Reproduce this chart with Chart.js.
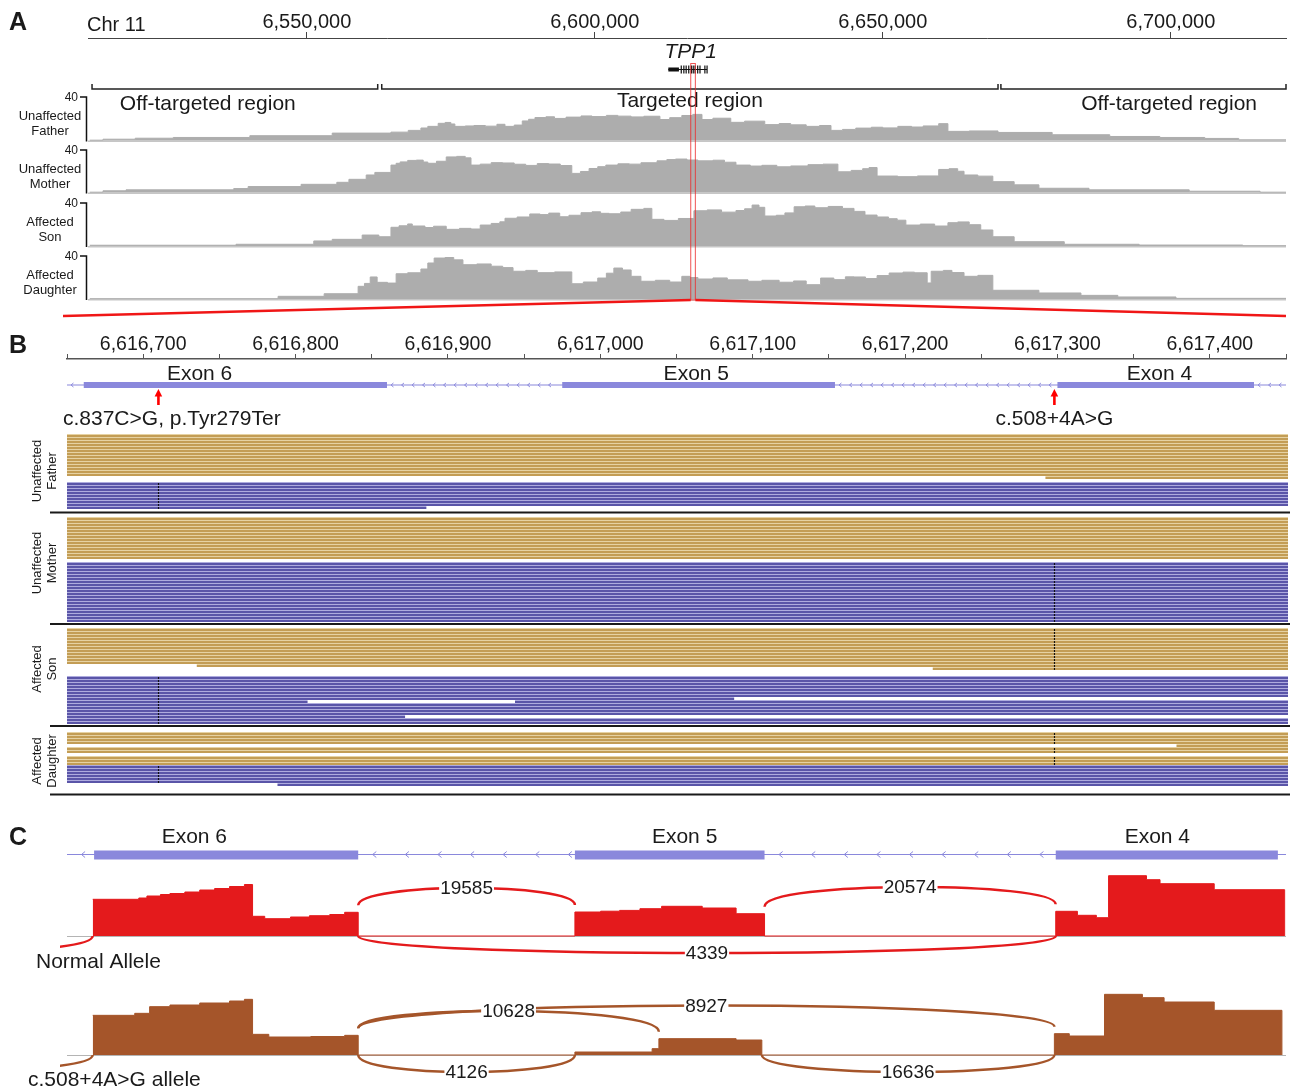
<!DOCTYPE html>
<html>
<head>
<meta charset="utf-8">
<title>TPP1 coverage, reads and splice junctions</title>
<script src="https://cdn.jsdelivr.net/npm/chart.js@4.4.1/dist/chart.umd.min.js"></script>
<style>
  html, body { margin: 0; padding: 0; background: #fff; }
  #page { position: relative; width: 1292px; height: 1088px; overflow: hidden; background: #fff; }
  #page canvas { position: absolute; left: 0; }
</style>
</head>
<body>
<div id="page"></div>
<script>
// ---------- panel A: chr11 window, positions in kb ----------
const chrRange = [6512, 6720];
const chrTicks = [6550, 6600, 6650, 6700];
const regionSpans = [[6512.7, 6562.3], [6563.0, 6670.0], [6670.5, 6720.0]];
const regionNames = ['Off-targeted region', 'Targeted region', 'Off-targeted region'];
const regionLabelAt = [6532.8, 6616.5, 6699.7];
const tpp1Utr = [6612.76, 6614.6];
const tpp1Exons = [[6614.9, 6615.0], [6615.35, 6615.45], [6615.75, 6615.85], [6616.2, 6616.3],
  [6616.661, 6616.86], [6616.975, 6617.154], [6617.3, 6617.429], [6617.75, 6617.85],
  [6618.15, 6618.25], [6619.0, 6619.1], [6619.38, 6619.48]];
const trackNames = [['Unaffected', 'Father'], ['Unaffected', 'Mother'], ['Affected', 'Son'], ['Affected', 'Daughter']];

// read depth, [kb, depth] - each depth holds from its position to the next one
const fatherCov = [[6512.3, 0.3], [6514.6, 1.2], [6520.2, 2.1], [6526.8, 2.8], [6540.1, 4.4], [6554.4, 6.8],
  [6564.6, 7.7], [6567.6, 9.3], [6569.8, 11.5], [6571.0, 13.0], [6572.8, 15.8], [6574.0, 16.6], [6575.0, 15.2],
  [6575.7, 13.0], [6577.5, 13.4], [6579.0, 13.8], [6581.0, 13.2], [6583.0, 14.9], [6584.4, 13.0], [6586.0, 14.2],
  [6587.4, 18.0], [6588.5, 19.5], [6589.6, 21.1], [6591.5, 21.8], [6593.0, 20.3], [6595.0, 21.5], [6597.6, 22.6],
  [6599.5, 22.0], [6602.0, 23.1], [6604.0, 22.4], [6606.3, 21.7], [6608.5, 22.3], [6611.3, 19.3], [6613.0, 21.0],
  [6615.1, 23.0], [6617.0, 24.0], [6618.6, 19.3], [6620.5, 20.5], [6623.6, 16.7], [6626.0, 17.8], [6629.5, 14.6],
  [6632.0, 15.6], [6634.0, 14.4], [6636.7, 13.0], [6639.0, 13.8], [6641.0, 9.3], [6643.0, 10.2], [6645.3, 11.4],
  [6648.0, 12.2], [6650.0, 11.6], [6652.6, 13.0], [6655.0, 12.4], [6657.0, 13.4], [6659.7, 15.5], [6661.3, 8.4],
  [6665.0, 8.8], [6670.0, 7.4], [6679.4, 5.3], [6689.4, 3.7], [6698.1, 2.8], [6705.9, 1.9], [6711.8, 0.6],
  [6720, 0.6]];
const motherCov = [[6512.3, 0.3], [6514.6, 1.6], [6518.6, 2.5], [6537.3, 3.7], [6539.8, 5.6], [6549.0, 7.7],
  [6555.2, 9.6], [6557.3, 12.4], [6560.3, 16.5], [6561.8, 18.9], [6564.6, 25.8], [6565.5, 27.5], [6566.2, 28.8],
  [6567.5, 30.2], [6569.0, 30.5], [6570.2, 28.7], [6571.0, 27.5], [6572.5, 29.4], [6574.2, 33.5], [6576.0, 34.0],
  [6577.5, 32.6], [6578.5, 25.8], [6580.1, 26.7], [6582.0, 28.1], [6584.0, 27.8], [6586.0, 26.6], [6588.0, 25.5],
  [6590.0, 27.2], [6592.0, 26.8], [6594.0, 25.4], [6596.0, 18.0], [6597.5, 19.8], [6599.0, 22.6], [6600.5, 24.3],
  [6601.9, 25.8], [6604.0, 27.0], [6606.0, 26.7], [6608.0, 28.0], [6610.8, 29.8], [6612.5, 31.0], [6614.0, 31.5],
  [6616.0, 30.6], [6617.9, 29.8], [6620.5, 30.4], [6622.5, 28.5], [6624.5, 25.8], [6627.0, 24.9], [6629.0, 25.6],
  [6631.6, 24.2], [6634.0, 25.0], [6637.0, 26.2], [6639.6, 26.7], [6642.2, 19.5], [6644.5, 20.8], [6646.5, 22.4],
  [6647.6, 23.5], [6649.0, 15.5], [6652.6, 14.9], [6656.0, 15.6], [6659.7, 21.7], [6661.5, 22.4], [6663.0, 20.0],
  [6664.1, 16.5], [6666.5, 15.4], [6669.1, 10.2], [6672.8, 7.2], [6677.1, 4.0], [6685.8, 2.5], [6703.2, 1.2],
  [6715.5, 0.3], [6720, 0.3]];
const sonCov = [[6512.3, 0.7], [6537.7, 1.6], [6551.2, 4.7], [6554.4, 6.2], [6559.6, 10.2], [6562.5, 8.6],
  [6564.6, 17.4], [6566.0, 18.8], [6567.5, 20.5], [6568.3, 18.6], [6570.5, 17.2], [6572.0, 18.4], [6574.2, 15.5],
  [6576.5, 16.4], [6578.5, 15.8], [6580.1, 19.5], [6582.0, 21.0], [6583.5, 22.5], [6584.4, 25.8], [6586.5, 27.0],
  [6588.7, 29.8], [6590.5, 29.2], [6592.0, 30.6], [6593.9, 27.2], [6595.5, 28.6], [6597.6, 31.0], [6599.5, 31.8],
  [6601.0, 30.4], [6602.5, 30.0], [6604.5, 31.6], [6606.3, 34.1], [6608.5, 35.0], [6609.9, 24.8], [6612.0, 23.8],
  [6614.5, 25.6], [6617.2, 32.8], [6619.5, 33.6], [6622.0, 31.5], [6624.5, 33.0], [6626.0, 34.6], [6627.3, 38.1],
  [6628.5, 36.0], [6629.5, 27.9], [6631.5, 28.6], [6633.0, 30.8], [6634.6, 36.5], [6636.5, 37.2], [6638.2, 35.6],
  [6640.5, 36.8], [6643.0, 35.0], [6645.0, 32.2], [6646.9, 28.8], [6649.0, 27.0], [6651.0, 25.4], [6652.5, 24.0],
  [6654.0, 19.5], [6656.5, 20.4], [6659.0, 18.6], [6661.3, 21.7], [6663.0, 22.4], [6665.0, 19.8], [6667.0, 14.9],
  [6669.1, 8.6], [6672.8, 4.0], [6681.5, 1.6], [6694.5, 0.9], [6712.5, 0.3], [6720, 0.3]];
const daughterCov = [[6512.3, 0.3], [6545.0, 2.5], [6553.0, 4.9], [6558.9, 11.8], [6560.0, 14.5], [6561.0, 20.5],
  [6562.2, 15.5], [6564.0, 14.8], [6565.5, 23.5], [6567.5, 24.4], [6569.8, 27.9], [6571.0, 33.5], [6572.1, 38.1],
  [6574.0, 38.6], [6575.5, 36.4], [6577.1, 31.9], [6579.5, 32.6], [6582.0, 30.5], [6584.0, 29.2], [6585.8, 25.8],
  [6588.0, 26.6], [6590.0, 24.5], [6593.0, 25.2], [6596.0, 14.2], [6598.0, 15.8], [6600.5, 19.5], [6602.0, 24.0],
  [6603.3, 28.8], [6604.8, 27.0], [6606.3, 21.1], [6608.0, 16.5], [6610.5, 17.4], [6613.0, 15.8], [6615.1, 21.1],
  [6616.5, 20.0], [6617.9, 18.6], [6620.5, 19.6], [6623.0, 17.8], [6626.6, 16.5], [6629.0, 17.4], [6632.0, 15.6],
  [6634.5, 16.8], [6636.7, 13.3], [6639.2, 19.5], [6641.5, 18.0], [6643.5, 20.6], [6645.0, 20.5], [6647.0, 19.0],
  [6649.0, 21.8], [6651.1, 24.2], [6653.5, 25.0], [6655.5, 24.4], [6657.7, 14.9], [6658.4, 25.8], [6660.5, 26.6],
  [6662.0, 24.6], [6664.1, 21.1], [6666.5, 22.0], [6669.1, 8.1], [6677.1, 5.6], [6684.4, 3.4], [6690.8, 1.9],
  [6700.9, 0.6], [6720, 0.6]];

// ---------- panel B: exons 4-6 in bp ----------
const bRange = [6616650, 6617450];
const bTicks = [6616650, 6616700, 6616750, 6616800, 6616850, 6616900, 6616950, 6617000, 6617050,
  6617100, 6617150, 6617200, 6617250, 6617300, 6617350, 6617400, 6617450];
const bExons = [[6616661, 6616860], [6616975, 6617154], [6617300, 6617429]];
const exonNames = ['Exon 6', 'Exon 5', 'Exon 4'];
const bExonLabelAt = [6616737, 6617063, 6617367];
const variants = [6616710, 6617298];
const variantNames = ['c.837C>G, p.Tyr279Ter', 'c.508+4A>G'];

// reads: [haplotype, rows, segments, variant carried]
const LO = 6616640, HI = 6617460;
const fatherReads = [
  ['h1', 14, [[LO, HI]], null],
  ['h1', 1, [[6617292, HI]], null],
  ['gap', 1],
  ['h2', 8, [[LO, HI]], 6616710],
  ['h2', 1, [[LO, 6616886]], 6616710]
];
const motherReads = [
  ['h1', 14, [[LO, HI]], null],
  ['gap', 1],
  ['h2', 20, [[LO, HI]], 6617298]
];
const sonReads = [
  ['h1', 12, [[LO, HI]], 6617298],
  ['h1', 1, [[6616735, HI]], 6617298],
  ['h1', 1, [[6617218, HI]], 6617298],
  ['gap', 2],
  ['h2', 7, [[LO, HI]], 6616710],
  ['h2', 1, [[LO, 6617088]], 6616710],
  ['h2', 1, [[LO, 6616808], [6616944, HI]], 6616710],
  ['h2', 4, [[LO, HI]], 6616710],
  ['h2', 1, [[LO, 6616872]], 6616710],
  ['h2', 2, [[LO, HI]], 6616710]
];
const daughterReads = [
  ['h1', 4, [[LO, HI]], 6617298],
  ['h1', 1, [[6617378, HI]], 6617298],
  ['h1', 2, [[LO, HI]], 6617298],
  ['gap', 1],
  ['h1', 3, [[LO, HI]], 6617298],
  ['h2', 6, [[LO, HI]], 6616710],
  ['h2', 1, [[6616788, HI]], 6616710]
];

// ---------- panel C: sashimi ----------
const cRange = [6616600, 6617500];
const cExons = [[6616620, 6616815], [6616975, 6617115], [6617330, 6617494]];
const cExonLabelAt = [6616694, 6617056, 6617405];
const normalCov = [[6616619, 36700], [6616653, 38000], [6616659, 40000], [6616669, 41500], [6616676, 42500],
  [6616687, 44000], [6616698, 46000], [6616709, 47500], [6616720, 49500], [6616731, 51500], [6616737, 19700],
  [6616746, 17300], [6616765, 19000], [6616779, 20300], [6616794, 21500], [6616805, 23700], [6616815, 0],
  [6616975, 24000], [6616994, 24800], [6617008, 25600], [6617023, 27300], [6617039, 29700], [6617069, 28000],
  [6617094, 22300], [6617115, 0], [6617330, 24700], [6617346, 20700], [6617360, 18300], [6617369, 60300],
  [6617397, 56300], [6617407, 52300], [6617447, 46300], [6617499, 0]];
const mutantCov = [[6616619, 47600], [6616650, 50000], [6616661, 58000], [6616676, 60000], [6616698, 62400],
  [6616720, 64800], [6616731, 66800], [6616737, 24800], [6616749, 21600], [6616780, 22200], [6616805, 23600],
  [6616815, 0], [6616975, 3600], [6617032, 7600], [6617037, 19600], [6617094, 18000], [6617113, 0],
  [6617329, 25600], [6617340, 22800], [6617366, 72800], [6617394, 68800], [6617410, 63600], [6617447, 53600],
  [6617497, 0]];
// [from, to, reads, side]
const normalJunctions = [
  [6616815, 6616975, 19585, 'up'],
  [6617115, 6617330, 20574, 'up'],
  [6616815, 6617330, 4339, 'down'],
  [6616380, 6616619, null, 'down']
];
const mutantJunctions = [
  [6616815, 6616975, 4126, 'down'],
  [6616815, 6617037, 10628, 'up'],
  [6616815, 6617329, 8927, 'up'],
  [6617113, 6617329, 16636, 'down'],
  [6616380, 6616619, null, 'down']
];
const alleleNames = ['Normal Allele', 'c.508+4A>G allele'];

// ---------- helpers ----------
const W = 1292;
const FONT = '"Liberation Sans", Arial, Helvetica, sans-serif';
const INK = '#1a1a1a';
const EXON = '#8a88dc';
const page = document.getElementById('page');

function addCanvas(top, height) {
  const c = document.createElement('canvas');
  c.width = W;
  c.height = height;
  c.style.top = top + 'px';
  c.style.width = W + 'px';
  c.style.height = height + 'px';
  page.appendChild(c);
  return c;
}

function txt(ctx, s, x, y, font, align, color) {
  ctx.save();
  ctx.font = font + ' ' + FONT;
  ctx.fillStyle = color || INK;
  ctx.textAlign = align || 'left';
  ctx.textBaseline = 'alphabetic';
  ctx.fillText(s, x, y);
  ctx.restore();
}

function seg(ctx, x1, y1, x2, y2) {
  ctx.beginPath();
  ctx.moveTo(x1, y1);
  ctx.lineTo(x2, y2);
  ctx.stroke();
}

// min/max for a hidden axis so that value 0 sits on `baseline`
function placeAxis(areaTop, areaHeight, baseline, pxPerUnit) {
  const max = (baseline - areaTop) / pxPerUnit;
  return { min: max - areaHeight / pxPerUnit, max };
}

function pts(cov) {
  return cov.map(([x, y]) => ({ x, y }));
}

// gene model backbone with strand chevrons between exons
function drawIntrons(ctx, x, area, cy, exons, step, size) {
  ctx.save();
  ctx.strokeStyle = EXON;
  ctx.lineWidth = 1.2;
  seg(ctx, area.left, cy, area.right, cy);
  const edges = [area.left];
  exons.forEach(([s, e]) => edges.push(x.getPixelForValue(s), x.getPixelForValue(e)));
  edges.push(area.right);
  ctx.lineWidth = 1;
  for (let i = 0; i < edges.length; i += 2) {
    for (let c = edges[i] + step / 2; c < edges[i + 1] - 3; c += step) {
      ctx.beginPath();
      ctx.moveTo(c + size * 0.6, cy - size);
      ctx.lineTo(c - size * 0.6, cy);
      ctx.lineTo(c + size * 0.6, cy + size);
      ctx.stroke();
    }
  }
  ctx.restore();
}

const base = {
  responsive: false,
  maintainAspectRatio: false,
  devicePixelRatio: 1,
  animation: false,
  events: [],
  plugins: { legend: { display: false }, tooltip: { enabled: false } }
};

// ---------- panel A ----------
const trackIds = ['yF', 'yM', 'yS', 'yD'];
const trackCov = [fatherCov, motherCov, sonCov, daughterCov];
const trackBox = [[97, 140.5], [150, 192.5], [203, 246], [256, 299]]; // px of the 40 tick and of 0
const A_TOP = 38, A_BOTTOM = 300;

const aScales = {
  x: {
    type: 'linear', position: 'top', min: chrRange[0], max: chrRange[1],
    afterFit: s => { s.height = A_TOP; },
    afterBuildTicks: s => { s.ticks = chrTicks.map(v => ({ value: v })); },
    grid: { drawOnChartArea: false, tickLength: 6, color: '#444', lineWidth: 1 },
    border: { color: '#444', width: 1 },
    ticks: {
      padding: 0, maxRotation: 0, autoSkip: false, color: INK,
      font: { size: 20, lineHeight: 1 },
      callback: v => (v * 1000).toLocaleString('en-US')
    }
  }
};
trackIds.forEach((id, i) => {
  const [top, zero] = trackBox[i];
  aScales[id] = Object.assign({ type: 'linear', display: false },
    placeAxis(A_TOP, A_BOTTOM - A_TOP, zero, (zero - top) / 40));
});

const panelA = {
  id: 'panelA',
  beforeDatasetsDraw(chart) {
    const { ctx, chartArea: a } = chart;
    ctx.save();
    ctx.strokeStyle = '#c6c6c6';
    ctx.lineWidth = 1.5;
    trackIds.forEach(id => {
      const y = chart.scales[id].getPixelForValue(0) + 0.75;
      seg(ctx, a.left, y, a.right, y);
    });
    ctx.restore();
  },
  afterDatasetsDraw(chart) {
    const { ctx, chartArea: a, scales } = chart;
    const x = scales.x;
    ctx.save();
    txt(ctx, 'A', 9, 30, 'bold 25px');
    txt(ctx, 'Chr 11', 87, 30.5, '20px');

    // TPP1 gene model
    const gy = 69.5;
    const g0 = x.getPixelForValue(tpp1Utr[0]);
    const g1 = x.getPixelForValue(tpp1Exons[tpp1Exons.length - 1][1]);
    ctx.strokeStyle = '#111';
    ctx.fillStyle = '#111';
    ctx.lineWidth = 1;
    seg(ctx, g0, gy, g1, gy);
    ctx.fillRect(g0, gy - 2, x.getPixelForValue(tpp1Utr[1]) - g0, 4);
    tpp1Exons.forEach(([s, e]) => {
      const p = x.getPixelForValue(s);
      ctx.fillRect(p, gy - 4, Math.max(x.getPixelForValue(e) - p, 1.2), 8);
    });
    txt(ctx, 'TPP1', (g0 + g1) / 2 + 3, 58, 'italic 21px', 'center');

    // target brackets
    ctx.strokeStyle = '#222';
    ctx.lineWidth = 1.5;
    regionSpans.forEach(([s, e], i) => {
      const p = x.getPixelForValue(s), q = x.getPixelForValue(e);
      ctx.beginPath();
      ctx.moveTo(p, 84); ctx.lineTo(p, 89); ctx.lineTo(q, 89); ctx.lineTo(q, 84);
      ctx.stroke();
      txt(ctx, regionNames[i], x.getPixelForValue(regionLabelAt[i]), i === 1 ? 107 : 110, '21px', 'center');
    });

    // per-track depth axis and sample name
    trackIds.forEach((id, i) => {
      const s = scales[id];
      const yt = s.getPixelForValue(40), yb = s.getPixelForValue(0);
      ctx.strokeStyle = '#111';
      ctx.lineWidth = 1.5;
      ctx.beginPath();
      ctx.moveTo(a.left - 8, yt); ctx.lineTo(a.left - 1.5, yt); ctx.lineTo(a.left - 1.5, yb + 1);
      ctx.stroke();
      txt(ctx, '40', a.left - 10, yt + 4.3, '12px', 'right');
      txt(ctx, trackNames[i][0], 50, yt + 23, '13px', 'center');
      txt(ctx, trackNames[i][1], 50, yt + 38, '13px', 'center');
    });

    // zoomed window of panel B
    const bl = x.getPixelForValue(bRange[0] / 1000), br = x.getPixelForValue(bRange[1] / 1000);
    ctx.strokeStyle = 'rgba(235, 40, 40, 0.8)';
    ctx.lineWidth = 1;
    ctx.strokeRect(bl, 63.5, br - bl, a.bottom - 63.5);
    ctx.strokeStyle = '#f01616';
    ctx.lineWidth = 2.5;
    seg(ctx, bl, a.bottom, 63, a.bottom + 16);
    seg(ctx, br, a.bottom, 1286, a.bottom + 16);
    ctx.restore();
  }
};

new Chart(addCanvas(0, 320), {
  type: 'line',
  data: {
    datasets: trackCov.map((cov, i) => ({
      data: pts(cov), yAxisID: trackIds[i], stepped: 'before', fill: 'origin',
      backgroundColor: '#adadad', borderColor: '#adadad', borderWidth: 1, pointRadius: 0
    }))
  },
  options: Object.assign({}, base, {
    layout: { padding: { left: 88, right: 6, top: 0, bottom: 320 - A_BOTTOM } },
    scales: aScales
  }),
  plugins: [panelA]
});

// ---------- panel B: axis + gene ----------
const panelBGene = {
  id: 'panelBGene',
  beforeDatasetsDraw(chart) {
    const { ctx, chartArea: a, scales: { x, y } } = chart;
    drawIntrons(ctx, x, a, y.getPixelForValue(0), bExons, 10.5, 2);
  },
  afterDraw(chart) {
    const { ctx, scales: { x } } = chart;
    txt(ctx, 'B', 9, 33, 'bold 25px');
    bExonLabelAt.forEach((p, i) => txt(ctx, exonNames[i], x.getPixelForValue(p), 60, '21px', 'center'));
    ctx.save();
    ctx.font = '21px ' + FONT;
    variants.forEach((v, i) => {
      const px = x.getPixelForValue(v);
      ctx.fillStyle = '#f00';
      ctx.beginPath();
      ctx.moveTo(px, 69); ctx.lineTo(px - 3.8, 76.5); ctx.lineTo(px + 3.8, 76.5);
      ctx.closePath();
      ctx.fill();
      ctx.fillRect(px - 1.3, 76, 2.6, 9);
      const w = ctx.measureText(variantNames[i]).width;
      txt(ctx, variantNames[i], Math.max(px, 63 + w / 2), 105, '21px', 'center');
    });
    ctx.restore();
  }
};

new Chart(addCanvas(320, 112), {
  type: 'bar',
  data: {
    labels: ['TPP1'],
    datasets: [{
      data: bExons.map(e => ({ x: e, y: 'TPP1' })),
      backgroundColor: EXON, barThickness: 6, borderWidth: 0, inflateAmount: 0, clip: 0
    }]
  },
  options: Object.assign({}, base, {
    indexAxis: 'y',
    layout: { padding: { left: 67, right: 6, top: 0, bottom: 21 } },
    scales: {
      x: {
        type: 'linear', position: 'top', min: bRange[0], max: bRange[1],
        afterFit: s => { s.height = 39; },
        afterBuildTicks: s => { s.ticks = bTicks.map(v => ({ value: v })); },
        grid: { drawOnChartArea: false, tickLength: 5, color: '#555', lineWidth: 1 },
        border: { color: '#555', width: 1.5 },
        ticks: {
          padding: 0, maxRotation: 0, autoSkip: false, color: INK,
          font: { size: 19.5, lineHeight: 1 },
          callback: v => (v % 100 === 0 ? v.toLocaleString('en-US') : '')
        }
      },
      y: { display: false }
    }
  }),
  plugins: [panelBGene]
});

// ---------- panel B: reads per sample ----------
const PITCH = 3;
const readColor = { h1: ['#c39d55', '#e6d2a3'], h2: ['#5a55a8', '#aeabde'] };
const readsMax = bRange[0] + (bRange[1] - bRange[0]) * 1221 / 1219;

function readsChart(groups, top, sepY, names, nameY) {
  const rows = [];
  groups.forEach(g => { for (let i = 0; i < g[1]; i++) rows.push(g); });
  const reads = [], marks = [];
  rows.forEach((g, r) => {
    if (g[0] === 'gap') return;
    g[2].forEach(s => reads.push({ x: s, y: String(r), h: g[0] }));
    const v = g[3];
    if (v && g[2].some(s => s[0] <= v && v <= s[1])) marks.push({ x: [v - 0.45, v + 0.55], y: String(r) });
  });
  const cTop = top - 2;
  const cH = Math.ceil(sepY + 3 - cTop);

  const frame = {
    id: 'readFrame',
    afterDraw(chart) {
      const ctx = chart.ctx;
      ctx.save();
      ctx.strokeStyle = '#1a1a1a';
      ctx.lineWidth = 2;
      seg(ctx, 50, sepY - cTop, 1290, sepY - cTop);
      [37, 52].forEach((cx, i) => {
        ctx.save();
        ctx.translate(cx, nameY - cTop);
        ctx.rotate(-Math.PI / 2);
        ctx.font = '13px ' + FONT;
        ctx.fillStyle = INK;
        ctx.textAlign = 'center';
        ctx.textBaseline = 'middle';
        ctx.fillText(names[i], 0, 0);
        ctx.restore();
      });
      ctx.restore();
    }
  };

  new Chart(addCanvas(cTop, cH), {
    type: 'bar',
    data: {
      labels: rows.map((_, r) => String(r)),
      datasets: [
        {
          data: marks, order: 0, backgroundColor: '#111', borderColor: 'rgba(0,0,0,0)',
          borderWidth: { top: 1, right: 0, bottom: 0, left: 0 }, borderSkipped: false,
          categoryPercentage: 1, barPercentage: 1, grouped: false, inflateAmount: 0, clip: 0
        },
        {
          data: reads, order: 1,
          backgroundColor: c => readColor[c.raw.h][0],
          borderColor: c => readColor[c.raw.h][1],
          borderWidth: { top: 1, right: 0, bottom: 0, left: 0 }, borderSkipped: false,
          categoryPercentage: 1, barPercentage: 1, grouped: false, inflateAmount: 0, clip: 0
        }
      ]
    },
    options: Object.assign({}, base, {
      indexAxis: 'y',
      layout: { padding: { left: 67, right: 4, top: 2, bottom: cH - 2 - rows.length * PITCH } },
      scales: {
        x: { type: 'linear', display: false, min: bRange[0], max: readsMax },
        y: { display: false }
      }
    }),
    plugins: [frame]
  });
}

readsChart(fatherReads, 434, 512.5, trackNames[0], 471);
readsChart(motherReads, 517, 624, trackNames[1], 563);
readsChart(sonReads, 628, 726, trackNames[2], 669);
readsChart(daughterReads, 732, 794.5, trackNames[3], 761);

// ---------- panel C: gene ----------
const C_GENE_TOP = 812;
const panelCGene = {
  id: 'panelCGene',
  beforeDatasetsDraw(chart) {
    const { ctx, chartArea: a, scales: { x, y } } = chart;
    drawIntrons(ctx, x, a, y.getPixelForValue(0) - 0.5, cExons, 32.6, 3);
  },
  afterDraw(chart) {
    const { ctx, scales: { x } } = chart;
    txt(ctx, 'C', 9, 845 - C_GENE_TOP, 'bold 25px');
    cExonLabelAt.forEach((p, i) => txt(ctx, exonNames[i], x.getPixelForValue(p), 843 - C_GENE_TOP, '21px', 'center'));
  }
};

new Chart(addCanvas(C_GENE_TOP, 60), {
  type: 'bar',
  data: {
    labels: ['TPP1'],
    datasets: [{
      data: cExons.map(e => ({ x: e, y: 'TPP1' })),
      backgroundColor: EXON, barThickness: 9, borderWidth: 0, inflateAmount: 0, clip: 0
    }]
  },
  options: Object.assign({}, base, {
    indexAxis: 'y',
    layout: { padding: { left: 67, right: 6, top: 34, bottom: 8 } },
    scales: {
      x: { type: 'linear', display: false, min: cRange[0], max: cRange[1] },
      y: { display: false }
    }
  }),
  plugins: [panelCGene]
});

// ---------- panel C: sashimi ----------
const C_TOP = 866, C_H = 222;
const RED = '#e41a1c', BROWN = '#a5552a';

function depthBefore(cov, pos) {
  let d = 0;
  cov.forEach(([p, v]) => { if (p < pos) d = v; });
  return d;
}
function depthAt(cov, pos) {
  let d = 0;
  cov.forEach(([p, v]) => { if (p <= pos) d = v; });
  return d;
}

function drawJunctions(chart, list, cov, axisId, color) {
  const { ctx, scales } = chart;
  const x = scales.x, y = scales[axisId];
  const zero = y.getPixelForValue(0);
  const labels = [];
  ctx.save();
  ctx.beginPath();
  ctx.rect(60, 0, W - 60, chart.height);
  ctx.clip();
  ctx.strokeStyle = color;
  ctx.lineWidth = 2.5;
  list.forEach(([from, to, reads, side]) => {
    const x1 = x.getPixelForValue(from), x2 = x.getPixelForValue(to);
    let y1, y2, yc;
    if (side === 'up') {
      y1 = y.getPixelForValue(depthBefore(cov, from)) - 7;
      y2 = y.getPixelForValue(depthAt(cov, to)) - 7;
      yc = Math.min(y1, y2) - (15 + (x2 - x1) * 0.009) * 4 / 3;
    } else {
      y1 = y2 = zero;
      yc = zero + 17 * 4 / 3;
    }
    ctx.beginPath();
    ctx.moveTo(x1, y1);
    ctx.bezierCurveTo(x1, yc, x2, yc, x2, y2);
    ctx.stroke();
    if (reads != null) labels.push([String(reads), (x1 + x2) / 2, 0.125 * (y1 + y2) + 0.75 * yc]);
  });
  ctx.font = '19px ' + FONT;
  labels.forEach(([s, lx, ly]) => {
    const w = ctx.measureText(s).width;
    ctx.fillStyle = '#fff';
    ctx.fillRect(lx - w / 2 - 1, ly - 7, w + 2, 14);
    ctx.fillStyle = INK;
    ctx.textAlign = 'center';
    ctx.textBaseline = 'middle';
    ctx.fillText(s, lx, ly + 1);
  });
  ctx.restore();
}

const sashimi = {
  id: 'sashimi',
  beforeDatasetsDraw(chart) {
    const { ctx, chartArea: a } = chart;
    ctx.save();
    ctx.strokeStyle = '#b4b4b4';
    ctx.lineWidth = 1.2;
    ['yN', 'yM'].forEach(id => {
      const y = chart.scales[id].getPixelForValue(0) + 0.5;
      seg(ctx, a.left, y, a.right, y);
    });
    ctx.restore();
  },
  afterDatasetsDraw(chart) {
    drawJunctions(chart, normalJunctions, normalCov, 'yN', RED);
    drawJunctions(chart, mutantJunctions, mutantCov, 'yM', BROWN);
    txt(chart.ctx, alleleNames[0], 36, 968 - C_TOP, '21px');
    txt(chart.ctx, alleleNames[1], 28, 1086 - C_TOP, '21px');
  }
};

new Chart(addCanvas(C_TOP, C_H), {
  type: 'line',
  data: {
    datasets: [
      { data: pts(normalCov), yAxisID: 'yN', stepped: 'before', fill: 'origin',
        backgroundColor: RED, borderColor: RED, borderWidth: 1, pointRadius: 0 },
      { data: pts(mutantCov), yAxisID: 'yM', stepped: 'before', fill: 'origin',
        backgroundColor: BROWN, borderColor: BROWN, borderWidth: 1, pointRadius: 0 }
    ]
  },
  options: Object.assign({}, base, {
    layout: { padding: { left: 67, right: 6, top: 0, bottom: 0 } },
    scales: {
      x: { type: 'linear', display: false, min: cRange[0], max: cRange[1] },
      yN: Object.assign({ type: 'linear', display: false }, placeAxis(0, C_H, 936 - C_TOP, 1 / 1000)),
      yM: Object.assign({ type: 'linear', display: false }, placeAxis(0, C_H, 1055 - C_TOP, 1 / 1200))
    }
  }),
  plugins: [sashimi]
});
</script>
</body>
</html>
